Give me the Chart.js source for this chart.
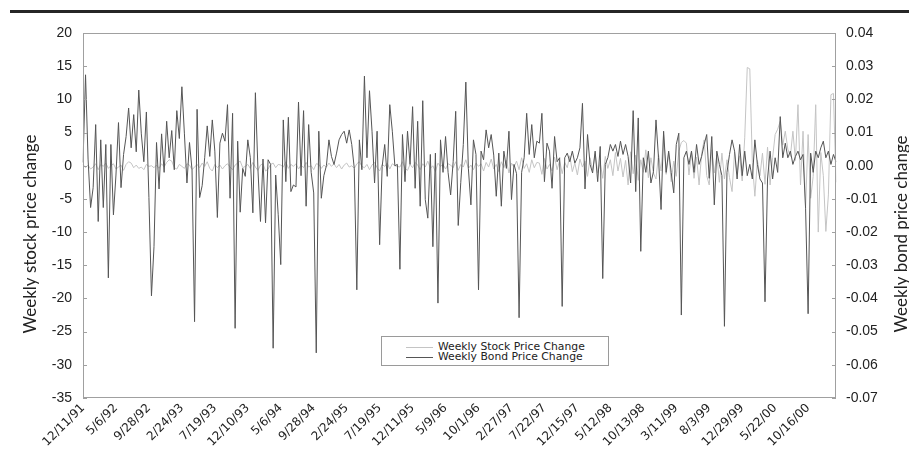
<!DOCTYPE html>
<html>
<head>
<meta charset="utf-8">
<script src="https://cdn.jsdelivr.net/npm/chart.js@4.4.0/dist/chart.umd.min.js"></script>
<style>
  body { margin: 0; background: #fff; }
  #wrap { position: relative; width: 909px; height: 460px; }
  #rule { position: absolute; left: 10px; right: 0; top: 10px; height: 3px; background: #262626; }
  #legend {
    position: absolute; left: 381px; top: 336px; width: 226px; height: 28px;
    border: 1px solid #9a9a9a; background: #fff;
    font: 10.8px "DejaVu Sans", sans-serif; color: #222;
  }
  #legend div { position: absolute; left: 24px; height: 10px; line-height: 10px; white-space: nowrap; }
  #legend span { display: inline-block; width: 27px; height: 0; vertical-align: middle; margin-right: 5px; border-top: 1px solid; }
</style>
</head>
<body>
<div id="wrap">
  <canvas id="chart" width="909" height="460"></canvas>
  <div id="rule"></div>
  <div id="legend">
    <div style="top:5px"><span style="border-color:#c4c4c4"></span>Weekly Stock Price Change</div>
    <div style="top:15px"><span style="border-color:#555"></span>Weekly Bond Price Change</div>
  </div>
</div>
<script>
// dates shown under the x axis, one every 13 observations
const dateTicks = ['12/11/91', '5/6/92', '9/28/92', '2/24/93', '7/19/93', '12/10/93', '5/6/94',
    '9/28/94', '2/24/95', '7/19/95', '12/11/95', '5/9/96', '10/1/96', '2/27/97', '7/22/97',
    '12/15/97', '5/12/98', '10/13/98', '3/11/99', '8/3/99', '12/29/99', '5/22/00', '10/16/00'];
const tickEvery = 13;

// weekly stock price change (left axis)
const stockChange = [
    0.2, -0.3, 0.1, -0.5, -0.2, 0.3, -0.6, 0.2, -0.1, 0.4, -0.4, 0.0, 0.3, -0.5,
    -0.2, 0.1, -0.7, 0.2, 0.6, 0.4, -0.3, 0.1, -0.4, -0.2, -0.6, 0.2, -0.1, 0.0, -0.3,
    0.1, -0.4, 0.3, -0.2, 0.5, 0.9, 0.7, -0.3, -0.5, 0.2, -0.1, -0.4, 0.3, 0.1,
    -0.6, -0.2, 0.2, -0.3, 0.4, -0.1, 0.6, -0.4, -0.8, 0.2, -0.3, 0.1, -0.5, 0.0,
    0.3, -0.2, -0.6, 0.1, 0.4, 0.7, -0.3, -0.1, 0.2, -0.4, 0.5, -0.2, -0.7, 0.1,
    0.3, -0.8, -0.5, 0.2, 0.4, -0.3, 0.2, 0.1, -0.2, 0.6, -0.4, 0.2, -0.1, 0.3, -0.5,
    0.1, -0.3, 0.5, -0.2, 0.0, -0.6, 0.3, 0.2, -0.4, 0.1, -0.2, 0.4, -0.1, 0.3,
    -0.3, 0.2, -0.5, 0.1, 0.4, -0.2, 0.0, -0.4, 0.3, 0.6, -0.1, -0.3, 0.2, -0.6,
    0.1, 0.5, -0.3, -0.8, 0.2, -0.1, 0.4, -0.5, 0.3, 0.0, -0.1, -0.2, 0.6, -0.4, -0.7,
    0.2, -0.3, 0.5, 0.1, -0.6, 0.3, -0.2, 0.7, -0.4, 0.0, -0.9, 0.4, -0.1, 0.2,
    -0.5, 0.3, 0.1, -0.3, 0.6, -0.7, 0.2, -0.2, 0.9, -0.4, 0.1, -0.6, 0.4, -0.1,
    0.3, -0.8, 0.5, -0.2, 1.0, -0.5, 0.2, -0.9, 0.6, -0.3, 0.8, -1.1, 0.4, -0.2,
    0.7, -0.6, 1.2, -0.4, 0.3, -1.0, 0.9, -0.3, 0.5, 0.4, -1.3, 1.1, -0.5, 0.2, -0.8,
    1.3, -0.6, 0.8, -1.2, 0.5, -0.3, 1.5, -0.9, 0.4, -1.4, 1.0, -0.2, 0.7, -1.6,
    1.2, -0.7, 1.8, -1.1, 0.5, -1.9, 1.4, -0.4, 0.9, -1.5, 2.0, -0.8, 1.1, -1.7,
    0.8, -2.9, 2.1, -1.2, 1.6, -2.2, 0.9, -1.0, 2.4, -1.8, 1.2, -1.1, -2.0, 1.7, -0.8,
    4.7, -1.3, 1.9, -2.4, 0.7, -1.6, 2.2, 3.5, 3.8, 3.4, -1.4, 2.0, -1.9, 1.3,
    -2.9, 1.8, 3.9, -1.5, -2.9, 2.4, -1.1, 1.6, -2.5, 1.9, -2.0, 0.9, -1.8, -3.9,
    2.1, -1.2, 1.5, -2.3, 4.2, 14.8, 14.6, 0.5, -4.6, 0.8, -1.5, 1.9, -2.8, 2.8,
    -2.9, 1.2, 4.7, 5.5, 6.7, 3.1, 5.2, 2.5, 1.4, 5.2, 0.8, 9.2, -2.9, 5.2, -6.4,
    4.7, -4.9, -1.6, 9.2, -10.0, 2.0, -1.5, -9.9, -4.4, 10.7, 10.9, -2.5
];

// weekly bond price change (right axis)
const bondChange = [
    0.0010, 0.0274, 0.0020, -0.0126, -0.0066, 0.0124, -0.0168, 0.0078, -0.0126, 0.0064, -0.0338, 0.0064, -0.0148, -0.0028,
    0.0130, -0.0066, 0.0034, 0.0088, 0.0174, 0.0054, 0.0154, 0.0042, 0.0228, 0.0096, 0.0012, 0.0162, -0.0096, -0.0392, -0.0244,
    0.0070, -0.0070, 0.0096, -0.0020, 0.0134, 0.0024, 0.0106, -0.0012, 0.0166, 0.0082, 0.0238, 0.0096, -0.0052, 0.0070,
    -0.0012, -0.0470, 0.0170, -0.0096, -0.0060, 0.0024, 0.0120, 0.0028, 0.0138, 0.0044, -0.0156, 0.0068, 0.0098, 0.0074,
    0.0184, -0.0098, 0.0158, -0.0490, 0.0074, -0.0140, -0.0008, -0.0032, 0.0078, 0.0024, -0.0142, 0.0220, -0.0012, -0.0168,
    0.0020, -0.0172, 0.0018, 0.0004, -0.0550, -0.0028, -0.0148, -0.0298, 0.0138, -0.0048, 0.0146, -0.0078, -0.0058, -0.0064, 0.0192,
    -0.0030, 0.0166, -0.0122, 0.0124, -0.0020, -0.0082, -0.0564, 0.0104, -0.0098, -0.0030, 0.0000, 0.0078, 0.0028, 0.0004,
    0.0038, 0.0078, 0.0094, 0.0104, 0.0068, 0.0108, 0.0064, -0.0008, -0.0374, 0.0078, -0.0012, 0.0270, 0.0024, 0.0226,
    0.0104, -0.0052, 0.0104, -0.0238, -0.0002, 0.0064, -0.0032, 0.0184, 0.0104, 0.0000, 0.0004, -0.0312, 0.0094, -0.0048, 0.0104,
    0.0004, 0.0178, -0.0068, 0.0134, -0.0122, 0.0196, -0.0102, -0.0158, 0.0034, -0.0244, 0.0038, -0.0414, 0.0078, -0.0020,
    0.0088, -0.0020, -0.0088, 0.0012, 0.0164, -0.0180, -0.0050, 0.0064, 0.0252, -0.0008, -0.0118, 0.0078, 0.0034, -0.0374,
    0.0044, 0.0018, 0.0108, 0.0054, 0.0094, 0.0032, -0.0092, 0.0038, -0.0122, 0.0044, -0.0008, 0.0104, -0.0102, 0.0004,
    -0.0024, -0.0458, -0.0020, 0.0024, 0.0158, 0.0034, 0.0124, 0.0024, 0.0074, 0.0068, 0.0158, -0.0048, 0.0068, 0.0044, -0.0068,
    0.0088, 0.0012, 0.0024, -0.0424, 0.0024, 0.0038, 0.0012, 0.0044, 0.0008, 0.0024, 0.0054, 0.0188, -0.0070, 0.0094,
    0.0004, -0.0022, 0.0044, -0.0048, 0.0058, -0.0340, 0.0004, 0.0024, 0.0064, 0.0044, 0.0064, 0.0028, 0.0074, 0.0034,
    0.0064, 0.0028, -0.0052, 0.0166, -0.0078, 0.0144, -0.0258, 0.0024, -0.0020, 0.0044, -0.0052, -0.0018, 0.0138, 0.0024, -0.0132,
    0.0104, -0.0020, 0.0044, -0.0020, -0.0082, 0.0064, 0.0098, -0.0450, 0.0024, 0.0044, 0.0004, 0.0044, -0.0020, 0.0064,
    0.0004, 0.0028, 0.0064, 0.0094, -0.0038, 0.0088, -0.0118, 0.0044, 0.0004, -0.0030, -0.0484, -0.0020, 0.0034, 0.0078,
    0.0044, -0.0040, 0.0064, -0.0030, 0.0044, -0.0030, 0.0004, -0.0040, 0.0078, 0.0004, -0.0040, -0.0052, -0.0410, -0.0040,
    0.0044, -0.0040, 0.0024, -0.0020, 0.0148, 0.0024, 0.0068, 0.0024, 0.0044, 0.0004, 0.0028, 0.0044, 0.0018, 0.0034, -0.0128,
    -0.0446, 0.0038, -0.0020, 0.0044, 0.0024, 0.0054, 0.0074, 0.0024, 0.0044, 0.0004, 0.0034, 0.0012
];

// category labels: a date every 13 points, blank in between
const xLabels = stockChange.map((v, i) => (i % tickEvery === 0 && dateTicks[i / tickEvery]) || '');

// frame, inner tick marks and the two axis titles
const framePlugin = {
    id: 'frame',
    afterDatasetsDraw(chart) {
        const { ctx, chartArea: a, scales } = chart;
        ctx.save();
        ctx.strokeStyle = '#a0a0a0';
        ctx.lineWidth = 1;
        ctx.strokeRect(a.left + 0.5, a.top + 0.5, a.right - a.left - 1, a.bottom - a.top - 1);
        ctx.beginPath();
        scales.y.ticks.forEach(t => {
            const py = Math.round(scales.y.getPixelForValue(t.value)) + 0.5;
            ctx.moveTo(a.left, py);
            ctx.lineTo(a.left + 4, py);
        });
        scales.y1.ticks.forEach(t => {
            const py = Math.round(scales.y1.getPixelForValue(t.value)) + 0.5;
            ctx.moveTo(a.right, py);
            ctx.lineTo(a.right - 4, py);
        });
        ctx.stroke();

        ctx.fillStyle = '#222';
        ctx.font = '17px Lato, sans-serif';
        ctx.textAlign = 'center';
        ctx.textBaseline = 'middle';
        [[31, 'Weekly stock price change'], [902, 'Weekly bond price change']].forEach(([x, txt]) => {
            ctx.save();
            ctx.translate(x, 234);
            ctx.rotate(-Math.PI / 2);
            ctx.fillText(txt, 0, 0);
            ctx.restore();
        });
        ctx.restore();
    }
};

const noGrid = { display: false, drawTicks: false, drawOnChartArea: false };

new Chart(document.getElementById('chart'), {
    type: 'line',
    data: {
        labels: xLabels,
        datasets: [{
            label: 'Weekly Stock Price Change',
            data: stockChange,
            yAxisID: 'y',
            borderColor: '#c4c4c4',
            borderWidth: 1,
            pointRadius: 0,
            tension: 0,
            order: 2
        }, {
            label: 'Weekly Bond Price Change',
            data: bondChange,
            yAxisID: 'y1',
            borderColor: '#555555',
            borderWidth: 1,
            pointRadius: 0,
            tension: 0,
            order: 1
        }]
    },
    options: {
        responsive: false,
        animation: false,
        layout: { padding: { top: 33, left: 0, right: 0, bottom: 0 } },
        plugins: { legend: { display: false }, tooltip: { enabled: false } },
        scales: {
            x: {
                grid: noGrid,
                border: { display: false },
                ticks: {
                    autoSkip: false,
                    maxRotation: 45,
                    minRotation: 45,
                    padding: 3,
                    color: '#222',
                    font: { family: 'DejaVu Sans', size: 12 }
                },
                afterFit: s => { s.height = 62; }
            },
            y: {
                position: 'left',
                min: -35,
                max: 20,
                grid: noGrid,
                border: { display: false },
                ticks: { stepSize: 5, padding: 11, color: '#222', font: { family: 'Liberation Sans', size: 14 } },
                afterFit: s => { s.width = 83; }
            },
            y1: {
                position: 'right',
                min: -0.07,
                max: 0.04,
                grid: noGrid,
                border: { display: false },
                ticks: {
                    stepSize: 0.01,
                    padding: 10,
                    color: '#222',
                    font: { family: 'Liberation Sans', size: 14 },
                    callback: v => (Math.abs(v) < 1e-9 ? 0 : v).toFixed(2)
                },
                afterFit: s => { s.width = 73; }
            }
        }
    },
    plugins: [framePlugin]
});
</script>
</body>
</html>
